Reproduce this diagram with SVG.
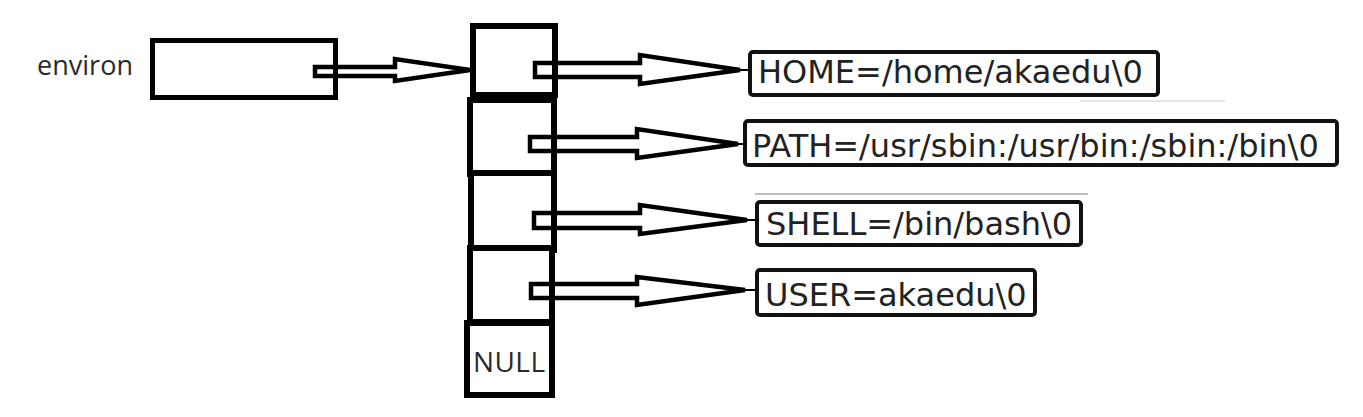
<svg xmlns="http://www.w3.org/2000/svg" width="1363" height="417" viewBox="0 0 1363 417">
<style>
.box{fill:#fff;stroke:#000;stroke-width:6}
.ptr{fill:#fff;stroke:#000;stroke-width:5}
.arr{fill:none;stroke:#000;stroke-width:4.5;stroke-linejoin:miter}
.tick{stroke:#000;stroke-width:2}
.sbox{fill:#fff;stroke:#111;stroke-width:4}
.lbl{font-family:"Open Sans","Liberation Sans",sans-serif;fill:#2a2a2a}
.str{font-family:"DejaVu Sans","Liberation Sans",sans-serif;font-size:32px;fill:#222}
</style>
<rect width="1363" height="417" fill="#fff"/>
<g id="environ">
<text class="lbl" x="37" y="75" font-size="27" textLength="96">environ</text>
<rect class="ptr" x="152.5" y="40.5" width="183" height="57"/>
</g>
<g id="arr0"><rect class="box" x="473" y="26" width="82" height="69"/></g>
<g id="arr1"><rect class="box" x="470" y="100" width="84" height="74"/></g>
<g id="arr2"><rect class="box" x="471" y="173" width="83" height="77"/></g>
<g id="arr3"><rect class="box" x="470" y="248" width="82" height="74"/></g>
<g id="arr4">
<rect class="box" x="467" y="323" width="85" height="72"/>
<text class="lbl" x="473" y="372" font-size="28" textLength="72">NULL</text>
</g>
<g id="home">
<rect class="sbox" x="750" y="52" width="408" height="43" rx="3"/>
<text class="str" x="758" y="83">HOME=/home/akaedu\0</text>
</g>
<g id="path">
<rect class="sbox" x="745" y="121" width="592" height="44" rx="3"/>
<text class="str" x="752" y="157">PATH=/usr/sbin:/usr/bin:/sbin:/bin\0</text>
</g>
<g id="shell">
<rect class="sbox" x="757" y="202" width="324" height="43" rx="3"/>
<text class="str" x="766" y="235">SHELL=/bin/bash\0</text>
</g>
<g id="user">
<rect class="sbox" x="757" y="270" width="278" height="45" rx="3"/>
<text class="str" x="765" y="306">USER=akaedu\0</text>
</g>
<g id="artifacts">
<line x1="1080" y1="101" x2="1225" y2="101" stroke="#ddd" stroke-width="1.5"/>
<line x1="755" y1="194" x2="1088" y2="194" stroke="#aaa" stroke-width="1.5"/>
</g>
<g id="connectors">
<polygon class="arr" points="315,67 395,67 395,59 470,70 395,81 395,76 315,76"/>
<polygon class="arr" points="535,63 640,63 640,55 740,70 640,84 640,77 535,77"/>
<line class="tick" x1="740" y1="70" x2="750" y2="70"/>
<polygon class="arr" points="530,137 637,137 637,129 738,144 637,158 637,151 530,151"/>
<line class="tick" x1="738" y1="144" x2="745" y2="144"/>
<polygon class="arr" points="534,213 640,213 640,205 747,220 640,234 640,228 534,228"/>
<line class="tick" x1="747" y1="220" x2="757" y2="220"/>
<polygon class="arr" points="531,284 637,284 637,277 745,290 637,305 637,298 531,298"/>
<line class="tick" x1="745" y1="290" x2="757" y2="290"/>
</g>
</svg>
